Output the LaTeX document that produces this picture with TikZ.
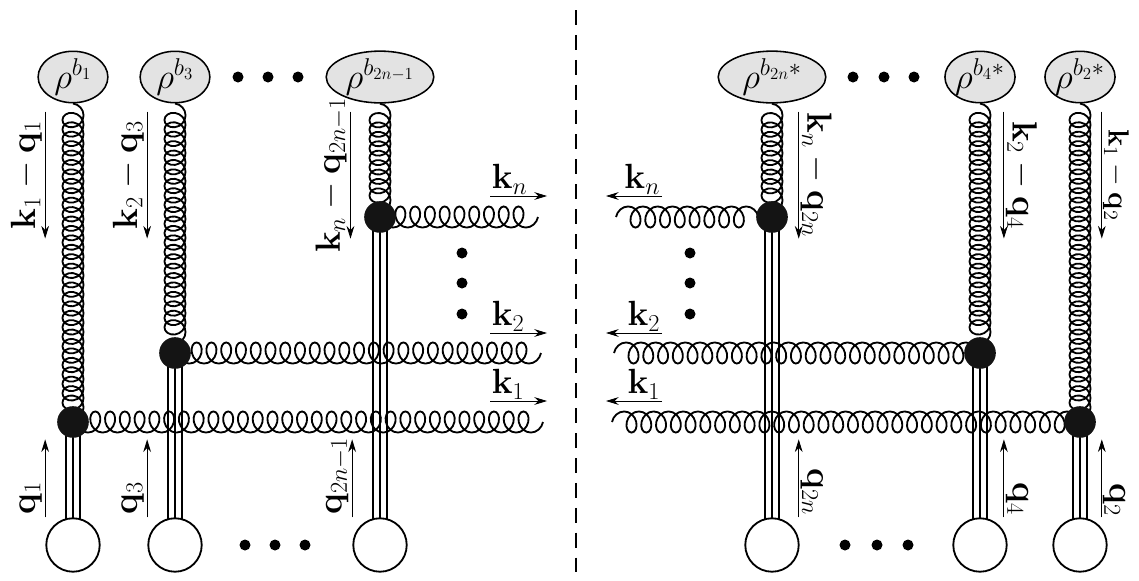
\documentclass[tikz,border=0pt]{standalone}
\usepackage{amsmath,amssymb}
\usetikzlibrary{shapes.geometric}
\usetikzlibrary{decorations.pathmorphing}
\usetikzlibrary{arrows.meta,backgrounds}

\tikzset{
  blob/.style={draw,ellipse,fill=black!11,line width=1.1pt,inner sep=0pt,
    minimum width=49.6pt,minimum height=35.4pt,font=\fontsize{26}{30}\selectfont},
  bigblob/.style={blob,minimum width=76.5pt,minimum height=36.8pt},
  vtx/.style={circle,fill=black!92,inner sep=0pt,minimum size=22.5pt},
  tgt/.style={circle,draw,fill=white,line width=1.3pt,inner sep=0pt,minimum size=38pt},
  gluonv/.style={decorate,line width=1.3pt,decoration={coil,amplitude=7.5pt,segment length=6.7pt,aspect=0.9}},
  gluonh/.style={decorate,line width=1.3pt,decoration={coil,amplitude=7.5pt,segment length=10.5pt,aspect=0.8}},
  mom/.style={-{Stealth[length=9pt,width=5.5pt]},line width=0.6pt},
}

\begin{document}
\begin{tikzpicture}[x=0.025cm,y=-0.025cm,font=\fontsize{24}{29}\selectfont]
\useasboundingbox (0,0) rectangle (1139,580);
% sources on top
\node[blob] (r1) at (73,77) {$\rho^{b_1}$};
\node[blob] (r3) at (175,77) {$\rho^{b_3}$};
\node[bigblob] (r2n1) at (380,77) {$\rho^{b_{2n-1}}$};
\node[bigblob] (r2n) at (772,77) {$\rho^{b_{2n}*}$};
\node[blob] (r4) at (980,77) {$\rho^{b_4*}$};
\node[blob] (r2) at (1080,77) {$\rho^{b_2*}$};
% vertices
\node[vtx] (v1) at (73,422) {};
\node[vtx] (v3) at (175,353) {};
\node[vtx] (v2n1) at (380,217) {};
\node[vtx] (v2n) at (772,217) {};
\node[vtx] (v4) at (980,353) {};
\node[vtx] (v2) at (1080,422) {};
% targets at the bottom
\node[tgt] (t1) at (73,545) {};
\node[tgt] (t3) at (175,545) {};
\node[tgt] (t2n1) at (380,545) {};
\node[tgt] (t2n) at (772,545) {};
\node[tgt] (t4) at (980,545) {};
\node[tgt] (t2) at (1080,545) {};
% free ends of the emitted gluons
\coordinate (e1) at (543,422);
\coordinate (e3) at (541,353);
\coordinate (e2n1) at (538,217);
\coordinate (e2n) at (616,217);
\coordinate (e4) at (614,353);
\coordinate (e2) at (612,422);

\begin{scope}[on background layer]
\foreach \d in {-5,0,5} {
  \draw[line width=0.8pt] ([xshift=\d pt]v1.center) -- ([xshift=\d pt]t1.center);
  \draw[line width=0.8pt] ([xshift=\d pt]v2.center) -- ([xshift=\d pt]t2.center);
  \draw[line width=1.4pt] ([xshift=\d pt]v3.center) -- ([xshift=\d pt]t3.center);
  \draw[line width=1.4pt] ([xshift=\d pt]v4.center) -- ([xshift=\d pt]t4.center);
  \draw[line width=1.8pt] ([xshift=\d pt]v2n1.center) -- ([xshift=\d pt]t2n1.center);
  \draw[line width=1.8pt] ([xshift=\d pt]v2n.center) -- ([xshift=\d pt]t2n.center);
}
\draw[gluonv] (r1) -- (v1.center);
\draw[gluonv] (r3) -- (v3.center);
\draw[gluonv] (r2n1) -- (v2n1.center);
\draw[gluonv] (r2n) -- (v2n.center);
\draw[gluonv] (r4) -- (v4.center);
\draw[gluonv] (r2) -- (v2.center);
\draw[gluonh] (e1) -- (v1.center);
\draw[gluonh] (e3) -- (v3.center);
\draw[gluonh] (e2n1) -- (v2n1.center);
\draw[gluonh] (e2n) -- (v2n.center);
\draw[gluonh] (e4) -- (v4.center);
\draw[gluonh] (e2) -- (v2.center);
\end{scope}

% momenta along the upper gluons
\draw[mom] ([xshift=-19.8pt,yshift=-5.7pt]r1.south) -- node[rotate=90,above,inner sep=2pt] {$\mathbf{k}_1-\mathbf{q}_1$} ++(0,127);
\draw[mom] ([xshift=-19.8pt,yshift=-5.7pt]r3.south) -- node[rotate=90,above,inner sep=2pt] {$\mathbf{k}_2-\mathbf{q}_3$} ++(0,127);
\draw[mom] ([xshift=-21pt,yshift=-5.7pt]r2n1.south) -- node[rotate=90,above,inner sep=2pt] {$\mathbf{k}_n-\mathbf{q}_{2n-1}$} ++(0,127);
\draw[mom] ([xshift=19pt,yshift=-5.7pt]r2n.south) -- node[rotate=-90,above,inner sep=1pt] {$\mathbf{k}_n-\mathbf{q}_{2n}$} ++(0,127);
\draw[mom] ([xshift=17pt,yshift=-5.7pt]r4.south) -- node[rotate=-90,above,inner sep=1pt] {$\mathbf{k}_2-\mathbf{q}_4$} ++(0,127);
\draw[mom] ([xshift=15.5pt,yshift=-5.7pt]r2.south) -- node[rotate=-90,above,inner sep=0.5pt,font=\fontsize{22}{26}\selectfont] {$\mathbf{k}_1-\mathbf{q}_2$} ++(0,127);
% momenta along the lines
\draw[mom] ([xshift=-19.8pt]t1.north) node[rotate=90,anchor=south west,inner sep=2pt] {$\mathbf{q}_1$} -- ++(0,-78);
\draw[mom] ([xshift=-19.8pt]t3.north) node[rotate=90,anchor=south west,inner sep=2pt] {$\mathbf{q}_3$} -- ++(0,-78);
\draw[mom] ([xshift=-19.8pt]t2n1.north) node[rotate=90,anchor=south west,inner sep=2pt] {$\mathbf{q}_{2n-1}$} -- ++(0,-78);
\draw[mom] ([xshift=19pt]t2n.north) node[rotate=-90,anchor=south east,inner sep=1pt] {$\mathbf{q}_{2n}$} -- ++(0,-78);
\draw[mom] ([xshift=17pt]t4.north) node[rotate=-90,anchor=south east,inner sep=1pt] {$\mathbf{q}_4$} -- ++(0,-78);
\draw[mom] ([xshift=15.5pt]t2.north) node[rotate=-90,anchor=south east,inner sep=0.5pt] {$\mathbf{q}_2$} -- ++(0,-78);
% emitted momenta
\foreach \y/\k in {196/n,333/2,401/1} {
  \draw[mom] (490,\y) node[anchor=south west,inner sep=1pt] {$\mathbf{k}_{\k}$} -- (547,\y);
  \draw[mom] (662,\y) node[anchor=south east,inner sep=1pt] {$\mathbf{k}_{\k}$} -- (606,\y);
}
% dots
\foreach \x in {238,268,298,853,884,914} \fill (\x,77) circle (5.5);
\foreach \x in {245,275,305,845,877,908} \fill (\x,545) circle (5.5);
\foreach \y in {253,283,314} {\fill (462,\y) circle (5.5); \fill (690,\y) circle (5.5);}
% cut
\draw[line width=2.1pt,dash pattern=on 10.6pt off 7.1pt] (576,10) -- (576,580);
\end{tikzpicture}
\end{document}
